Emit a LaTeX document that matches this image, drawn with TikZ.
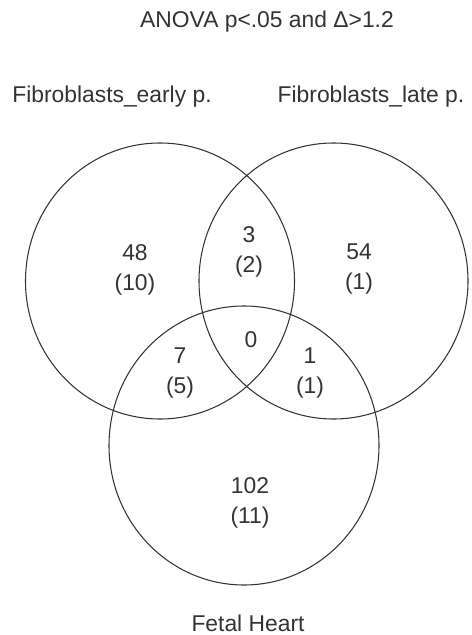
\documentclass[tikz,border=0pt]{standalone}
\usepackage{fontspec}
\setmainfont{Liberation Sans}
\usepackage{tikz}

\begin{document}
\begin{tikzpicture}[x=0.02cm, y=-0.02cm,
    set/.style={draw=black!80, line width=0.6pt},
    count/.style={text=black!80, align=center, font=\fontsize{13pt}{17.5pt}\selectfont},
    setname/.style={text=black!80, font=\fontsize{13pt}{16pt}\selectfont}]

  \useasboundingbox (0,0) rectangle (471,635);

  % Set centres
  \coordinate (early) at (160,281);
  \coordinate (late)  at (333.5,281);
  \coordinate (heart) at (244,445.5);

  % Circles
  \draw[set] (early) ellipse [x radius=134.5, y radius=138];
  \draw[set] (late)  ellipse [x radius=134.5, y radius=138];
  \draw[set] (heart) ellipse [x radius=135, y radius=139.5];

  % Title and set names
  \node[setname] (title)    at (267,22)  {ANOVA p<.05 and Δ>1.2};
  \node[setname] (lblEarly) at (112,97)  {Fibroblasts\_early p.};
  \node[setname] (lblLate)  at (371,97)  {Fibroblasts\_late p.};
  \node[setname] (lblHeart) at (248,623) {Fetal Heart};

  % Region counts
  \node[count] (nEarly)      at (135,270) {48\\(10)};
  \node[count] (nEarlyLate)  at (249,252) {3\\(2)};
  \node[count] (nLate)       at (359,269) {54\\(1)};
  \node[count] (nAll)        at (251,340) {0};
  \node[count] (nEarlyHeart) at (180,373) {7\\(5)};
  \node[count] (nLateHeart)  at (310,373) {1\\(1)};
  \node[count] (nHeart)      at (250,503) {102\\(11)};

\end{tikzpicture}
\end{document}
